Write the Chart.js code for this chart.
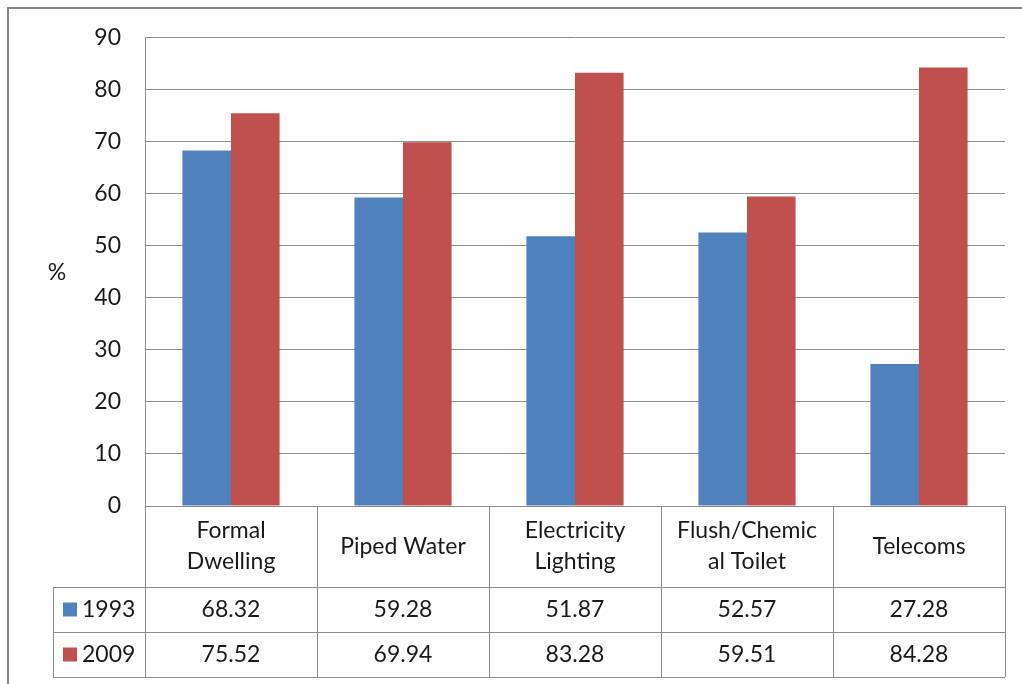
<!DOCTYPE html>
<html>
<head>
<meta charset="utf-8">
<script src="https://cdn.jsdelivr.net/npm/chart.js@4.4.1/dist/chart.umd.min.js"></script>
<style>
  html, body { margin: 0; padding: 0; background: #fff; }
  #wrap { width: 1022px; height: 684px; position: relative; }
</style>
</head>
<body>
<div id="wrap"><canvas id="chart"></canvas></div>
<script>
// data
const categories = [["Formal", "Dwelling"], ["Piped Water"], ["Electricity", "Lighting"], ["Flush/Chemic", "al Toilet"], ["Telecoms"]];
const years = ["1993", "2009"];
const values1993 = [68.32, 59.28, 51.87, 52.57, 27.28];
const values2009 = [75.52, 69.94, 83.28, 59.51, 84.28];
const yMin = 0, yMax = 90, yStep = 10;
const yTitle = "%";

const colors = ["#4F81BD", "#C0504D"];
const lineGray = "#8c8c8c";
const FONT = "Lato, 'Open Sans', sans-serif";

// frame + data table under the plot
const tablePlugin = {
  id: "dataTable",
  beforeDraw(chart) {
    const ctx = chart.ctx;
    ctx.save();
    ctx.fillStyle = "#fff";
    ctx.fillRect(0, 0, chart.width, chart.height);
    ctx.strokeStyle = "#868686";
    ctx.lineWidth = 2;
    ctx.beginPath();
    ctx.moveTo(8, chart.height);
    ctx.lineTo(8, 8);
    ctx.lineTo(chart.width, 8);
    ctx.stroke();
    ctx.restore();
  },
  afterDraw(chart) {
    const ctx = chart.ctx;
    const area = chart.chartArea;
    const x = chart.scales.x;
    const n = categories.length;
    const cw = (area.right - area.left) / n;
    const top = area.bottom;
    const headBottom = top + 81;
    const rowH = 45;
    const legendLeft = 53;
    const rowsBottom = headBottom + rowH * years.length;

    ctx.save();
    ctx.strokeStyle = lineGray;
    ctx.lineWidth = 1;
    ctx.beginPath();
    // horizontal lines
    for (let r = 0; r <= years.length; r++) {
      const y = Math.round(headBottom + r * rowH) + 0.5;
      ctx.moveTo(legendLeft, y);
      ctx.lineTo(area.right, y);
    }
    // vertical lines
    for (let i = 0; i <= n; i++) {
      const xx = Math.round(area.left + i * cw) + 0.5;
      ctx.moveTo(xx, top);
      ctx.lineTo(xx, rowsBottom);
    }
    ctx.moveTo(legendLeft + 0.5, headBottom);
    ctx.lineTo(legendLeft + 0.5, rowsBottom);
    ctx.stroke();

    ctx.fillStyle = "#1a1a1a";
    ctx.font = "23px " + FONT;
    ctx.textAlign = "center";
    ctx.textBaseline = "middle";
    // header
    categories.forEach((lab, i) => {
      const cx = x.getPixelForValue(i);
      const lines = Array.isArray(lab) ? lab : [lab];
      const mid = (top + headBottom) / 2;
      lines.forEach((ln, k) => {
        ctx.fillText(ln, cx, mid + (k - (lines.length - 1) / 2) * 31);
      });
    });
    // rows
    [values1993, values2009].forEach((vals, r) => {
      const cy = headBottom + r * rowH + rowH / 2;
      vals.forEach((v, i) => {
        ctx.fillText(v.toFixed(2), x.getPixelForValue(i), cy);
      });
      ctx.fillStyle = colors[r];
      ctx.fillRect(legendLeft + 10, cy - 7, 14, 14);
      ctx.fillStyle = "#1a1a1a";
      ctx.textAlign = "left";
      ctx.fillText(years[r], legendLeft + 29, cy);
      ctx.textAlign = "center";
    });

    // axis title
    ctx.fillText(yTitle, 57, 273);
    ctx.restore();
  }
};

new Chart(document.getElementById("chart"), {
  type: "bar",
  data: {
    labels: categories,
    datasets: [
      { label: years[0], data: values1993, backgroundColor: colors[0], barPercentage: 1, categoryPercentage: 0.565 },
      { label: years[1], data: values2009, backgroundColor: colors[1], barPercentage: 1, categoryPercentage: 0.565 }
    ]
  },
  options: {
    responsive: true,
    maintainAspectRatio: false,
    animation: false,
    devicePixelRatio: 1,
    layout: { padding: { left: 0, top: 37, right: 17, bottom: 178 } },
    plugins: { legend: { display: false }, tooltip: { enabled: false } },
    scales: {
      x: {
        ticks: { display: false },
        grid: { display: false, drawTicks: false },
        border: { display: false }
      },
      y: {
        min: yMin,
        max: yMax,
        afterFit(scale) { scale.width = 145; },
        ticks: { stepSize: yStep, padding: 24, color: "#1a1a1a", font: { family: FONT, size: 23 } },
        grid: { color: lineGray, drawTicks: false },
        border: { color: lineGray }
      }
    }
  },
  plugins: [tablePlugin]
});
</script>
</body>
</html>
